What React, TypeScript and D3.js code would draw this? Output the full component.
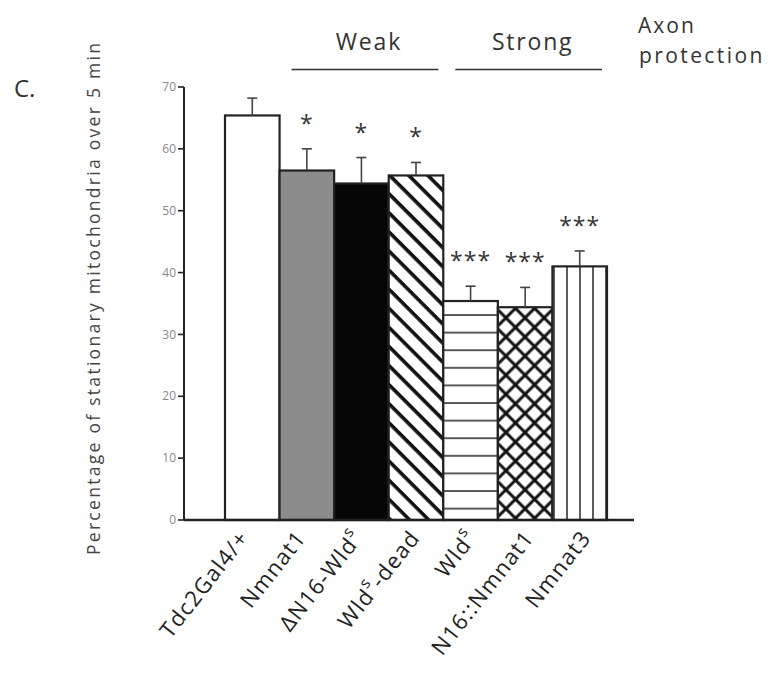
import React from "react";
import * as d3 from "d3";

// Genotypes along the x axis ("WldS" renders with a raised s)
const categories = ["Tdc2Gal4/+", "Nmnat1", "ΔN16-WldS", "WldS-dead", "WldS", "N16::Nmnat1", "Nmnat3"];
// Mean percentage of stationary mitochondria over 5 min
const means = [65.4, 56.5, 54.4, 55.7, 35.4, 34.4, 41.0];
// Upper end of the error bars
const errorTops = [68.2, 60.0, 58.6, 57.8, 37.8, 37.6, 43.5];
// Significance marks above each bar
const significance = ["", "*", "*", "*", "***", "***", "***"];
// Fill style per bar
const fills = ["white", "gray", "black", "diag", "hstripe", "cross", "vstripe"];
const yTicks = [0, 10, 20, 30, 40, 50, 60, 70];
// Bracketed groups above the plot
const groups = [
  { label: "Weak", from: 1, to: 3 },
  { label: "Strong", from: 4, to: 6 },
];

const W = 775;
const H = 679;
const FONT = "'Open Sans', 'Noto Sans', sans-serif";

function renderLabel(s: string) {
  const parts = s.split("WldS");
  const out: React.ReactNode[] = [];
  parts.forEach((p, i) => {
    if (i > 0) {
      out.push(<tspan key={`w${i}`}>Wld</tspan>);
      out.push(
        <tspan key={`s${i}`} baselineShift="super" fontSize="0.72em">
          s
        </tspan>
      );
    }
    if (p) out.push(<tspan key={`p${i}`}>{p}</tspan>);
  });
  return out;
}

export default function App() {
  const x = d3.scaleBand<string>().domain(categories).range([225, 607]).padding(0);
  // slanted category labels are spread a little wider than the bars
  const xLabel = d3.scaleBand<string>().domain(categories).range([221.5, 620.5]).padding(0);
  const y = d3.scaleLinear().domain([0, 70]).range([520, 87]);
  const axisX = 184;
  const baseY = y(0);

  const fillFor = (f: string) => {
    switch (f) {
      case "white":
        return "#ffffff";
      case "gray":
        return "#8c8c8c";
      case "black":
        return "#050505";
      default:
        return `url(#pat-${f})`;
    }
  };

  // bracket extents for the two groups, from the bar edges
  const bracket = (from: number, to: number) => {
    const x0 = (x(categories[from]) as number) + 12;
    const x1 = (x(categories[to]) as number) + x.bandwidth() - 5;
    return [x0, x1];
  };

  return (
    <svg width={W} height={H} style={{ display: "block", position: "absolute", left: 0, top: 0, background: "#fff" }} fontFamily={FONT}>
      <defs>
        <pattern id="pat-diag" patternUnits="userSpaceOnUse" width={13.5} height={13.5} patternTransform="rotate(-45)">
          <rect width={13.5} height={13.5} fill="#fff" />
          <line x1={3} y1={-1} x2={3} y2={15} stroke="#111" strokeWidth={3.6} />
        </pattern>
        <pattern id="pat-hstripe" patternUnits="userSpaceOnUse" width={20} height={17.6} y={y(35.4) + 13}>
          <rect width={20} height={17.6} fill="#fff" />
          <line x1={0} y1={1} x2={20} y2={1} stroke="#333" strokeWidth={1.6} />
        </pattern>
        <pattern id="pat-cross" patternUnits="userSpaceOnUse" width={13.5} height={13.5} patternTransform="rotate(45)">
          <rect width={13.5} height={13.5} fill="#fff" />
          <line x1={2} y1={-1} x2={2} y2={15} stroke="#111" strokeWidth={3} />
          <line x1={-1} y1={2} x2={15} y2={2} stroke="#111" strokeWidth={3} />
        </pattern>
        <pattern id="pat-vstripe" patternUnits="userSpaceOnUse" width={13} height={20} x={560}>
          <rect width={13} height={20} fill="#fff" />
          <line x1={7} y1={0} x2={7} y2={20} stroke="#333" strokeWidth={1.6} />
        </pattern>
      </defs>

      {/* panel letter */}
      <text x={14} y={97} fontSize={24} fill="#333">C.</text>

      {/* y-axis title */}
      <text
        transform={`translate(100, 299) rotate(-90)`}
        textAnchor="middle"
        fontSize={17.5}
        fill="#444"
        textLength={512}
        lengthAdjust="spacing"
      >
        Percentage of stationary mitochondria over 5 min
      </text>

      {/* group brackets */}
      {groups.map((g) => {
        const [x0, x1] = bracket(g.from, g.to);
        const mid = (x0 + x1) / 2;
        return (
          <g key={g.label}>
            <text x={mid + 4} y={50} textAnchor="middle" fontSize={23} letterSpacing={1.8} fill="#333">
              {g.label}
            </text>
            <line x1={x0} x2={x1} y1={69.5} y2={69.5} stroke="#333" strokeWidth={1.5} />
          </g>
        );
      })}
      <text x={638} y={33} fontSize={21} letterSpacing={2} fill="#333">Axon</text>
      <text x={639} y={63} fontSize={21} letterSpacing={2.4} fill="#333">protection</text>

      {/* bars */}
      {categories.map((c, i) => {
        const bx = x(c) as number;
        const bw = x.bandwidth();
        const top = y(means[i]);
        return (
          <rect
            key={c}
            x={bx}
            y={top}
            width={bw}
            height={baseY - top}
            fill={fillFor(fills[i])}
            stroke="#222"
            strokeWidth={2.2}
          />
        );
      })}

      {/* error bars */}
      {categories.map((c, i) => {
        const cx = (x(c) as number) + x.bandwidth() / 2;
        return (
          <g key={`e${c}`} stroke="#444" strokeWidth={1.6}>
            <line x1={cx} x2={cx} y1={y(means[i])} y2={y(errorTops[i])} />
            <line x1={cx - 5} x2={cx + 5} y1={y(errorTops[i])} y2={y(errorTops[i])} />
          </g>
        );
      })}

      {/* significance stars */}
      {categories.map((c, i) =>
        significance[i] ? (
          <text
            key={`s${c}`}
            x={(x(c) as number) + x.bandwidth() / 2}
            y={y(errorTops[i]) - 17}
            textAnchor="middle"
            fontSize={23}
            fill="#333"
            letterSpacing={1}
          >
            {significance[i]}
          </text>
        ) : null
      )}

      {/* y axis */}
      <line x1={axisX} x2={axisX} y1={y(70)} y2={baseY} stroke="#222" strokeWidth={2} />
      {yTicks.map((t) => (
        <g key={t}>
          <line x1={axisX - 6} x2={axisX} y1={y(t)} y2={y(t)} stroke="#222" strokeWidth={1.6} />
          <text x={176} y={y(t)} dy="0.35em" textAnchor="end" fontSize={12} fill="#888">
            {t}
          </text>
        </g>
      ))}

      {/* baseline */}
      <line x1={axisX} x2={634} y1={baseY} y2={baseY} stroke="#222" strokeWidth={2.6} />

      {/* category labels */}
      {categories.map((c) => {
        const cx = (xLabel(c) as number) + xLabel.bandwidth() / 2;
        return (
          <text
            key={`l${c}`}
            transform={`translate(${cx}, 538) rotate(-52)`}
            textAnchor="end"
            fontSize={22}
            letterSpacing={1.3}
            fill="#222"
          >
            {renderLabel(c)}
          </text>
        );
      })}
    </svg>
  );
}
